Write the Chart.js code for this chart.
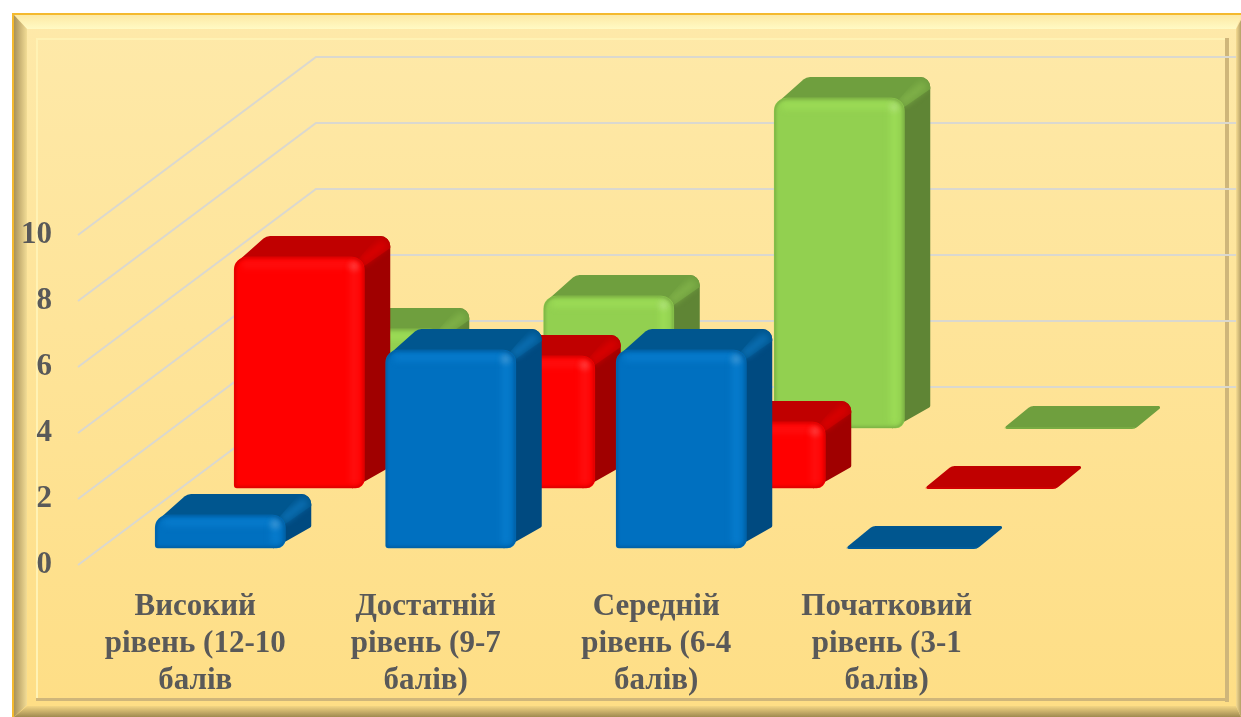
<!DOCTYPE html>
<html>
<head>
<meta charset="utf-8">
<title>Рівні</title>
<script src="https://cdn.jsdelivr.net/npm/chart.js@4"></script>
<style>
html, body { margin: 0; padding: 0; background: #fff; overflow: hidden; }
canvas { display: block; }
</style>
</head>
<body>
<canvas id="chart" width="1241" height="717"></canvas>
<script>
const categories = [
    ['Високий', 'рівень (12-10', 'балів'],
    ['Достатній', 'рівень (9-7', 'балів)'],
    ['Середній', 'рівень (6-4', 'балів)'],
    ['Початковий', 'рівень (3-1', 'балів)']
];
const blueValues = [1, 6, 6, 0];
const redValues = [7, 4, 2, 0];
const greenValues = [3, 4, 10, 0];

// look of each depth row, front to back
const rows = [
    { dx: 25, dy: -17, front: '#0070C0', top: '#00568F', side: '#004A80', ridge: '#0A6DB0', light: '#0A80D2' },
    { dx: 104, dy: -77, front: '#FF0000', top: '#C00000', side: '#A00000', ridge: '#D80000', light: '#FF1414' },
    { dx: 183, dy: -137, front: '#92D050', top: '#6F9F3E', side: '#5F8535', ridge: '#7FB048', light: '#A0E258' }
];
const depthX = 26, depthY = 21;

function poly(ctx, pts, radii) {
    // closed polygon with rounded corners
    const n = pts.length;
    ctx.beginPath();
    const m0 = [(pts[n - 1][0] + pts[0][0]) / 2, (pts[n - 1][1] + pts[0][1]) / 2];
    ctx.moveTo(m0[0], m0[1]);
    for (let i = 0; i < n; i++) {
        const next = pts[(i + 1) % n];
        ctx.arcTo(pts[i][0], pts[i][1], next[0], next[1], radii[i]);
    }
    ctx.closePath();
}

const framePlugin = {
    id: 'frame',
    beforeDraw(chart) {
        const ctx = chart.ctx;
        ctx.save();
        ctx.fillStyle = '#fff';
        ctx.fillRect(0, 0, 1241, 717);
        // main panel
        let g = ctx.createLinearGradient(0, 15, 0, 700);
        g.addColorStop(0, '#FEE9A9');
        g.addColorStop(1, '#FEDE86');
        ctx.fillStyle = g;
        ctx.fillRect(12, 13, 1229, 704);
        // top bevel
        g = ctx.createLinearGradient(0, 15, 0, 29);
        g.addColorStop(0, '#FDE9A4');
        g.addColorStop(1, '#FFFAC4');
        ctx.fillStyle = g;
        ctx.beginPath();
        ctx.moveTo(14, 15); ctx.lineTo(1241, 15); ctx.lineTo(1236, 29); ctx.lineTo(27, 29);
        ctx.fill();
        // left bevel
        g = ctx.createLinearGradient(14, 0, 28, 0);
        g.addColorStop(0, '#A9925A');
        g.addColorStop(1, '#F8E29A');
        ctx.fillStyle = g;
        ctx.beginPath();
        ctx.moveTo(14, 15); ctx.lineTo(27, 29); ctx.lineTo(27, 705); ctx.lineTo(14, 717);
        ctx.fill();
        // bottom bevel
        g = ctx.createLinearGradient(0, 706, 0, 717);
        g.addColorStop(0, '#F3D684');
        g.addColorStop(1, '#A08A50');
        ctx.fillStyle = g;
        ctx.beginPath();
        ctx.moveTo(27, 706); ctx.lineTo(1236, 706); ctx.lineTo(1241, 717); ctx.lineTo(14, 717);
        ctx.fill();
        // right bevel
        g = ctx.createLinearGradient(1236, 0, 1241, 0);
        g.addColorStop(0, '#F6DC92');
        g.addColorStop(1, '#B5A067');
        ctx.fillStyle = g;
        ctx.beginPath();
        ctx.moveTo(1236, 29); ctx.lineTo(1241, 20); ctx.lineTo(1241, 717); ctx.lineTo(1236, 706);
        ctx.fill();
        // orange rim
        ctx.fillStyle = '#F4B92E';
        ctx.fillRect(12, 13, 1229, 2);
        ctx.fillRect(12, 13, 2, 704);
        // inner frame
        ctx.fillStyle = '#FFF2B4';
        ctx.fillRect(36, 38, 1189, 2);
        ctx.fillRect(36, 38, 2, 660);
        ctx.fillStyle = '#CFB67A';
        ctx.fillRect(1225, 38, 4, 664);
        ctx.fillRect(36, 698, 1193, 3);
        ctx.restore();
    }
};

const wallPlugin = {
    id: 'walls',
    beforeDatasetsDraw(chart) {
        const ctx = chart.ctx, y = chart.scales.y;
        ctx.save();
        ctx.strokeStyle = '#DAD8CF';
        ctx.lineWidth = 2;
        y.ticks.forEach(t => {
            const py = y.getPixelForValue(t.value);
            ctx.beginPath();
            ctx.moveTo(78, py);
            ctx.lineTo(316, py - 178);
            ctx.lineTo(1236, py - 178);
            ctx.stroke();
        });
        ctx.restore();
    }
};

const extrudePlugin = {
    id: 'extrude',
    beforeDatasetDraw(chart, args) {
        const ctx = chart.ctx, row = rows[args.index];
        ctx.save();
        ctx.translate(row.dx, row.dy);
        args.meta.data.forEach(bar => {
            const x0 = bar.x - bar.width / 2, x1 = bar.x + bar.width / 2;
            const yt = bar.y, yb = bar.base;
            if (yb - yt < 1) {
                ctx.fillStyle = row.top;
                poly(ctx, [[x0 - 2, yb + 1], [x0 + depthX, yb - depthY - 1], [x1 + depthX + 2, yb - depthY - 1], [x1, yb + 1]], [1.5, 8, 1.5, 8]);
                ctx.fill();
                return;
            }
            ctx.fillStyle = row.side;
            poly(ctx, [[x1 - 12, yt], [x1 - 12 + depthX, yt - depthY], [x1 + depthX, yt - depthY], [x1 + depthX, yb - depthY], [x1 - 12, yb + 0.5]], [0, 0, 10, 2, 0]);
            ctx.fill();
            ctx.fillStyle = row.top;
            poly(ctx, [[x0 + 5, yt + 3], [x0 + 32, yt - depthY], [x1 + depthX, yt - depthY], [x1 + depthX, yt - depthY + 12], [x1, yt + 9]], [0, 10, 10, 0, 0]);
            ctx.fill();
            // soft ridge where top meets side
            ctx.save();
            poly(ctx, [[x1 - 12, yt + 9], [x1 - 12 + depthX, yt - depthY], [x1 + depthX, yt - depthY], [x1 + depthX, yt + 10], [x1, yt + 12]], [0, 0, 10, 0, 0]);
            ctx.clip();
            ctx.filter = 'blur(3px)';
            ctx.strokeStyle = row.ridge;
            ctx.lineWidth = 9;
            ctx.beginPath();
            ctx.moveTo(x1 - 3, yt + 5);
            ctx.lineTo(x1 + depthX - 5, yt - depthY + 7);
            ctx.stroke();
            ctx.restore();
        });
    },
    afterDatasetDraw(chart, args) {
        const ctx = chart.ctx, row = rows[args.index];
        args.meta.data.forEach(bar => {
            const x0 = bar.x - bar.width / 2, x1 = bar.x + bar.width / 2;
            const yt = bar.y, yb = bar.base;
            if (yb - yt < 1) return;
            ctx.save();
            ctx.beginPath();
            ctx.roundRect(x0, yt, x1 - x0, yb - yt, [13, 13, 9, 3]);
            ctx.clip();
            ctx.filter = 'blur(3px)';
            ctx.fillStyle = row.light;
            ctx.globalAlpha = 0.75;
            ctx.fillRect(x0 + 8, yt + 4, x1 - x0 - 18, 7);
            ctx.fillRect(x1 - 14, yt + 8, 8, yb - yt - 12);
            ctx.fillStyle = '#fff';
            ctx.globalAlpha = 0.28;
            ctx.beginPath();
            ctx.arc(x1 - 10, yt + 9, 4, 0, Math.PI * 2);
            ctx.fill();
            ctx.globalAlpha = 1;
            ctx.filter = 'blur(1.5px)';
            ctx.strokeStyle = 'rgba(0,0,0,0.18)';
            ctx.lineWidth = 3;
            ctx.beginPath();
            ctx.roundRect(x0, yt, x1 - x0, yb - yt, [13, 13, 9, 3]);
            ctx.stroke();
            ctx.restore();
        });
        ctx.restore();
    }
};

new Chart(document.getElementById('chart').getContext('2d'), {
    type: 'bar',
    data: {
        labels: categories,
        datasets: [
            { label: 'Ряд 1', data: blueValues, backgroundColor: rows[0].front, clip: false },
            { label: 'Ряд 2', data: redValues, backgroundColor: rows[1].front, clip: false },
            { label: 'Ряд 3', data: greenValues, backgroundColor: rows[2].front, clip: false }
        ]
    },
    options: {
        responsive: false,
        animation: false,
        layout: { padding: { top: 235, right: 239, left: 0, bottom: 0 } },
        grouped: false,
        barThickness: 130,
        borderRadius: { topLeft: 13, topRight: 13, bottomLeft: 3, bottomRight: 9 },
        borderSkipped: false,
        plugins: { legend: { display: false }, tooltip: { enabled: false } },
        scales: {
            x: {
                grid: { display: false },
                border: { display: false },
                afterFit(scale) { scale.height = 152; },
                ticks: {
                    autoSkip: false,
                    maxRotation: 0,
                    padding: 16,
                    color: '#595959',
                    font: { family: 'Liberation Serif', weight: 'bold', size: 31, lineHeight: 1.19 }
                }
            },
            y: {
                min: 0,
                max: 10,
                grid: { display: false },
                border: { display: false },
                afterFit(scale) { scale.width = 80; },
                ticks: {
                    stepSize: 2,
                    padding: 20,
                    color: '#595959',
                    font: { family: 'Liberation Serif', weight: 'bold', size: 31 }
                }
            }
        }
    },
    plugins: [framePlugin, wallPlugin, extrudePlugin]
});
</script>
</body>
</html>
